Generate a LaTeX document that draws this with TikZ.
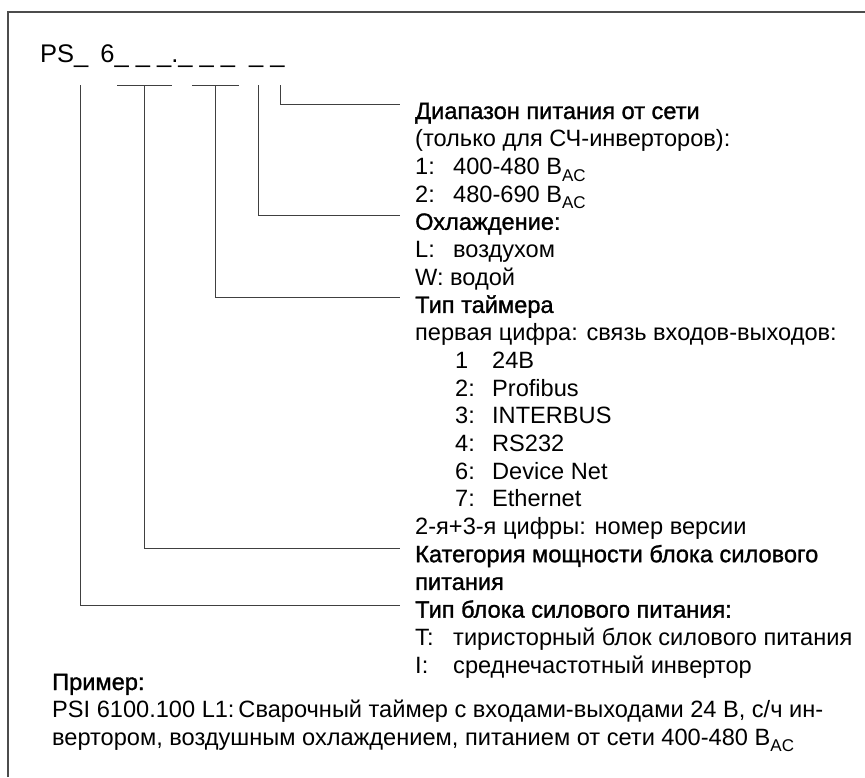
\documentclass[tikz,border=0pt]{standalone}
\usepackage{fontspec}
\setmainfont{Liberation Sans}
\newfontfamily\semib[FakeBold=1.2]{Liberation Sans}
\newcommand{\ac}{\raisebox{-0.28em}{\fontsize{17}{17}\selectfont AC}}
\newcommand{\lab}[1]{\makebox[38pt][l]{#1}}
\newcommand{\labb}[1]{\makebox[37pt][l]{#1}}
\begin{document}
\begin{tikzpicture}[x=1pt,y=-1pt,
  txt/.style={anchor=base west,inner sep=0pt,font=\fontsize{23.6}{28}\selectfont},
  ttl/.style={anchor=base west,inner sep=0pt,font=\fontsize{25.5}{30}\selectfont},
  conn/.style={line width=1pt,draw=black!75},
  frame/.style={line width=1.2pt,draw=black!70}]
\useasboundingbox (0,0) rectangle (865,777);
\draw[frame] (8,777) -- (8,12) -- (865,12);
\node[ttl] (title) at (40,62) {PS\_\hspace{12pt}6\_ \_ \_.\_ \_ \_\ \ \_ \_};
% right column
\def\bl{119}\def\sp{27.7}
\node[txt] (r0)  at (415,{\bl+0*\sp})  {\semib Диапазон питания от сети};
\node[txt] (r1)  at (415,{\bl+1*\sp})  {(только для СЧ-инверторов):};
\node[txt] (r2)  at (415,{\bl+2*\sp})  {\lab{1:}400-480 B\ac};
\node[txt] (r3)  at (415,{\bl+3*\sp})  {\lab{2:}480-690 B\ac};
\node[txt] (r4)  at (415,{\bl+4*\sp})  {\semib Охлаждение:};
\node[txt] (r5)  at (415,{\bl+5*\sp})  {\lab{L:}воздухом};
\node[txt] (r6)  at (415,{\bl+6*\sp})  {W: водой};
\node[txt] (r7)  at (415,{\bl+7*\sp})  {\semib Тип таймера};
\node[txt] (r8)  at (415,{\bl+8*\sp})  {первая цифра: связь входов-выходов:};
\node[txt] (r9)  at (455,{\bl+9*\sp})  {\labb{1}24B};
\node[txt] (r10) at (455,{\bl+10*\sp}) {\labb{2:}Profibus};
\node[txt] (r11) at (455,{\bl+11*\sp}) {\labb{3:}INTERBUS};
\node[txt] (r12) at (455,{\bl+12*\sp}) {\labb{4:}RS232};
\node[txt] (r13) at (455,{\bl+13*\sp}) {\labb{6:}Device Net};
\node[txt] (r14) at (455,{\bl+14*\sp}) {\labb{7:}Ethernet};
\node[txt] (r15) at (415,{\bl+15*\sp}) {2-я+3-я цифры: номер версии};
\node[txt] (r16) at (415,{\bl+16*\sp}) {\semib Категория мощности блока силового};
\node[txt] (r17) at (415,{\bl+17*\sp}) {\semib питания};
\node[txt] (r18) at (415,{\bl+18*\sp}) {\semib Тип блока силового питания:};
\node[txt] (r19) at (415,{\bl+19*\sp}) {\lab{T:}тиристорный блок силового питания};
\node[txt] (r20) at (415,{\bl+20*\sp}) {\lab{I:}среднечастотный инвертор};
% left column
\node[txt] (l0) at (52,690)   {\semib Пример:};
\node[txt] (l1) at (52,717.5) {PSI 6100.100 L1:\,Сварочный таймер с входами-выходами 24 В, с/ч ин-};
\node[txt] (l2) at (52,745)   {вертором, воздушным охлаждением, питанием от сети 400-480 B\ac};
% connector anchors
\coordinate (a0) at (80,85);
\coordinate (b0) at (117,85); \coordinate (b1) at (172,85); \coordinate (bm) at (144,85);
\coordinate (c0) at (192,85); \coordinate (c1) at (239,85); \coordinate (cm) at (215,85);
\coordinate (d0) at (258,85);
\coordinate (e0) at (280,85);
\draw[conn] (b0) -- (b1);
\draw[conn] (c0) -- (c1);
\draw[conn] (e0) |- ([xshift=-15pt,yshift=15pt]r0.base west);
\draw[conn] (d0) |- ([xshift=-15pt,yshift=14pt]r4.base west);
\draw[conn] (cm) |- ([xshift=-15pt,yshift=15pt]r7.base west);
\draw[conn] (bm) |- ([xshift=-15pt,yshift=14pt]r16.base west);
\draw[conn] (a0) |- ([xshift=-15pt,yshift=12pt]r18.base west);
\end{tikzpicture}
\end{document}
